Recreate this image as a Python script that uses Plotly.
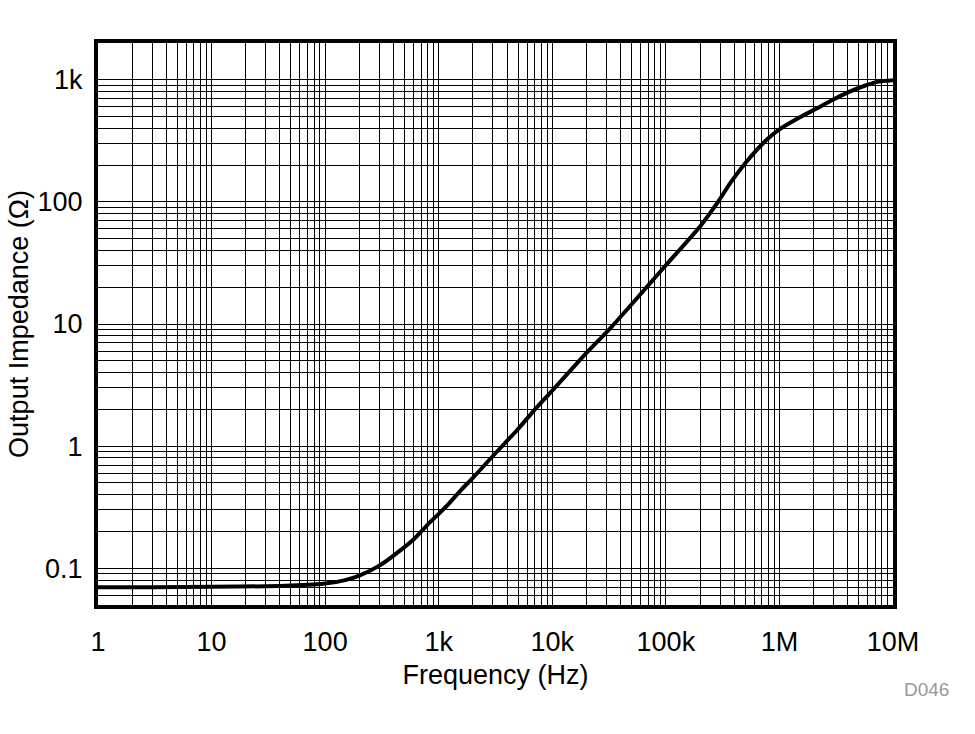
import plotly.graph_objects as go

freq_hz = [1, 3, 10, 30, 50, 100, 150, 200, 300, 400, 600, 800, 1000, 1200, 1600, 2000,
           3000, 5000, 7200, 10000, 20000, 33000, 69000, 100000, 200000, 290000, 370000,
           510000, 760000, 1000000, 1500000, 2100000, 2900000, 4100000, 5800000,
           7500000, 10000000]
impedance_ohm = [0.070, 0.070, 0.0705, 0.0712, 0.0722, 0.075, 0.080, 0.087, 0.105, 0.127,
                 0.172, 0.228, 0.279, 0.33, 0.445, 0.55, 0.83, 1.38, 2.05, 2.85, 5.8, 9.4,
                 20.4, 30.3, 63, 101, 143, 212, 318, 392, 490, 578, 679, 795, 902, 965, 992]

x_tickvals = [1, 10, 100, 1000, 10000, 100000, 1000000, 10000000]
x_ticktext = ["1", "10", "100", "1k", "10k", "100k", "1M", "10M"]
y_tickvals = [0.1, 1, 10, 100, 1000]
y_ticktext = ["0.1", "1", "10", "100", "1k"]

x_minor = [m * 10 ** e for e in range(0, 7) for m in range(2, 10)]
y_minor = [m * 10 ** e for e in range(-2, 4) for m in range(2, 10)]

fig = go.Figure()
fig.add_trace(go.Scatter(
    x=freq_hz, y=impedance_ohm, mode="lines",
    line=dict(color="black", width=4, shape="spline", smoothing=0.6),
    showlegend=False, hoverinfo="x+y"))

font = dict(family="Liberation Sans, Arial, sans-serif", color="black")

fig.update_layout(
    width=975, height=734,
    margin=dict(l=98, r=82, t=43, b=129),
    paper_bgcolor="white", plot_bgcolor="white",
    font=dict(**font, size=27),
    xaxis=dict(
        type="log", range=[0, 7],
        tickmode="array", tickvals=x_tickvals, ticktext=x_ticktext,
        showgrid=True, gridcolor="black", gridwidth=1.2,
        minor=dict(tickmode="array", tickvals=x_minor, showgrid=True,
                   gridcolor="black", gridwidth=1.2, ticks=""),
        showline=True, linecolor="black", linewidth=4, mirror=True,
        ticks="outside", ticklen=10, tickcolor="rgba(0,0,0,0)",
        tickfont=dict(size=27),
        title=dict(text="Frequency (Hz)", font=dict(size=27), standoff=10),
        zeroline=False,
    ),
    yaxis=dict(
        type="log", range=[-1.30103, 3.30103],
        tickmode="array", tickvals=y_tickvals, ticktext=y_ticktext,
        showgrid=True, gridcolor="black", gridwidth=1.2,
        minor=dict(tickmode="array", tickvals=y_minor, showgrid=True,
                   gridcolor="black", gridwidth=1.2, ticks=""),
        showline=True, linecolor="black", linewidth=4, mirror=True,
        ticks="outside", ticklen=6, tickcolor="rgba(0,0,0,0)",
        tickfont=dict(size=27),
        title=dict(text="Output Impedance (Ω)", font=dict(size=27), standoff=2),
        zeroline=False,
    ),
    annotations=[dict(text="D046", x=0, y=0, xref="paper", yref="paper",
                      showarrow=False, font=dict(size=19, color="#999999"),
                      xanchor="right", yanchor="middle")],
)
pw, ph = 975 - 98 - 82, 734 - 43 - 129
fig.layout.annotations[0].x = (951 - 98) / pw
fig.layout.annotations[0].y = (734 - 129 - 689) / ph

fig.write_html("out.html")
